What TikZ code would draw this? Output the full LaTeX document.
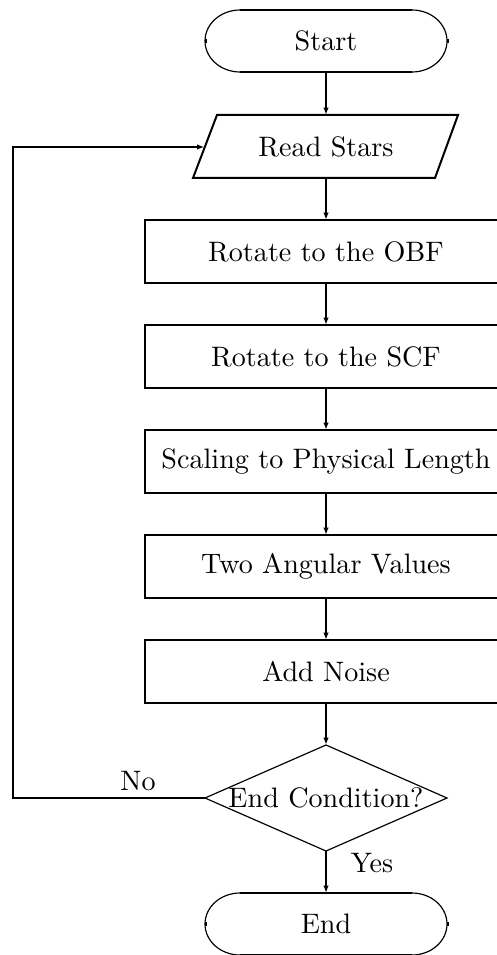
\documentclass[tikz,border=0pt]{standalone}
\usetikzlibrary{arrows.meta,calc}

% one drawing unit = one pixel of the 497 x 955 sheet
\newcommand\pxu{0.3555pt}

% rounded terminal outline around a plain node: thick flat sides, thin end arcs
\newcommand\terminalshape[1]{%
  \draw[edgeline] ($(#1.north west)+(35,0)$) -- ($(#1.north east)+(-35,0)$);
  \draw[edgeline] ($(#1.south west)+(35,0)$) -- ($(#1.south east)+(-35,0)$);
  \draw[hairline] ($(#1.north west)+(35,0)$)
     arc[start angle=90, end angle=270, x radius=12.44pt, y radius=11.02pt];
  \draw[hairline] ($(#1.south east)+(-35,0)$)
     arc[start angle=270, end angle=450, x radius=12.44pt, y radius=11.02pt];
  \draw[edgeline] ($(#1.west)+(0.5,-2)$) -- ($(#1.west)+(0.5,2)$);
  \draw[edgeline] ($(#1.east)+(0.5,-2)$) -- ($(#1.east)+(0.5,2)$);
}

\begin{document}
\begin{tikzpicture}[x=\pxu, y=-\pxu,
  edgeline/.style={line width=0.71pt},
  hairline/.style={line width=0.42pt},
  conn/.style={line width=0.71pt, -{Latex[length=2.6pt,width=1.9pt]}},
  hidden/.style={rectangle, inner sep=0pt, outer sep=0pt},
  stepbox/.style={rectangle, draw, edgeline, inner sep=0pt, outer sep=0pt,
                  minimum width=362*\pxu, minimum height=63*\pxu},
  termbox/.style={hidden, minimum width=242*\pxu, minimum height=62*\pxu},
  lbl/.style={inner sep=0pt},
  ]
\useasboundingbox (0,0) rectangle (497,955);
\clip (0,0) rectangle (497,955);

% start / end terminals
\node[termbox] (start) at (326,41) {Start};
\terminalshape{start}

\node[termbox] (stop) at (326,924) {End};
\terminalshape{stop}

% input parallelogram
\node[hidden, minimum width=241*\pxu, minimum height=63*\pxu] (read) at (326,146.5) {Read Stars};
\draw[edgeline] ($(read.center)+(-109,-31.5)$) -- ($(read.center)+(132,-31.5)$)
   -- ($(read.center)+(109,31.5)$) -- ($(read.center)+(-133,31.5)$) -- cycle;
\coordinate (readin) at ($(read.center)+(-121.5,0.5)$);

% processing steps
\node[stepbox] (obf)   at (326,251.5) {Rotate to the OBF};
\node[stepbox] (scf)   at (326,356.5) {Rotate to the SCF};
\node[stepbox] (scale) at (326,461.5) {Scaling to Physical Length};
\node[stepbox] (ang)   at (326,566.5) {Two Angular Values};
\node[stepbox] (noise) at (326,671.5) {Add Noise};

% decision
\node[hidden, minimum width=242*\pxu, minimum height=106*\pxu] (dec) at (326,798) {End Condition?};
\draw[hairline] (dec.north) -- (dec.east) -- (dec.south) -- (dec.west) -- cycle;

% main flow
\draw[conn] (start.south) -- (read.north);
\draw[conn] (read.south) -- (obf.north);
\draw[conn] (obf.south) -- (scf.north);
\draw[conn] (scf.south) -- (scale.north);
\draw[conn] (scale.south) -- (ang.north);
\draw[conn] (ang.south) -- (noise.north);
\draw[conn] (noise.south) -- (dec.north);
\draw[conn] (dec.south) -- (stop.north);

% loop back
\coordinate (loopcorner) at (13,798);
\draw[conn] (dec.west) -- (loopcorner) |- (readin);

\node[lbl] (nolbl)  at (138,781) {No};
\node[lbl] (yeslbl) at (372,863) {Yes};
\end{tikzpicture}
\end{document}
